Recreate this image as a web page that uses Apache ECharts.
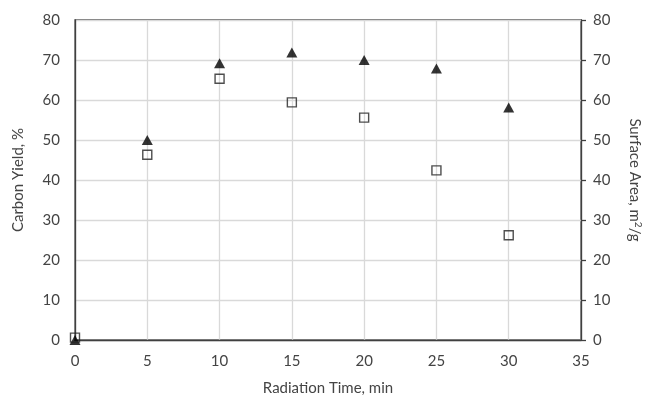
<!DOCTYPE html>
<html><head><meta charset="utf-8">
<script src="https://cdn.jsdelivr.net/npm/echarts@6/dist/echarts.min.js"></script>
<style>html,body{margin:0;padding:0;background:#fff}#c{width:648px;height:395px}</style>
</head><body><div id="c"></div>
<script>
const times = [0, 5, 10, 15, 20, 25, 30];
const carbonYield = [0, 50, 69.2, 71.9, 70, 67.9, 58.1];
const surfaceArea = [0.6, 46.3, 65.3, 59.4, 55.6, 42.4, 26.2];
const xTicks = {min: 0, max: 35, interval: 5};
const yTicks = {min: 0, max: 80, interval: 10};

const FONT = 'Lato, "Open Sans", sans-serif';
const TXT = '#444';
const FS = 15;
const chart = echarts.init(document.getElementById('c'));
chart.setOption({
  animation: false,
  grid: {left: 75, right: 67, top: 20, bottom: 55, show: true, borderColor: '#404040', borderWidth: 1.3,
         outerBoundsMode: 'none', containLabel: false},
  xAxis: {
    type: 'value', min: xTicks.min, max: xTicks.max, interval: xTicks.interval,
    name: 'Radiation Time, min', nameLocation: 'middle', nameGap: 41,
    nameTextStyle: {fontFamily: FONT, fontSize: FS, color: TXT},
    axisLine: {show: true, lineStyle: {color: '#404040', width: 1.3}},
    axisTick: {show: false},
    axisLabel: {fontFamily: FONT, fontSize: FS, color: TXT, margin: 14},
    splitLine: {show: true, lineStyle: {color: '#d9d9d9', width: 1.3}}
  },
  yAxis: [{
    type: 'value', min: yTicks.min, max: yTicks.max, interval: yTicks.interval,
    name: 'Carbon Yield, %', nameLocation: 'middle', nameGap: 49,
    nameTextStyle: {fontFamily: FONT, fontSize: FS, color: TXT},
    axisLine: {show: true, lineStyle: {color: '#404040', width: 1.3}},
    axisTick: {show: false},
    axisLabel: {fontFamily: FONT, fontSize: FS, color: TXT, margin: 15},
    splitLine: {show: true, lineStyle: {color: '#d9d9d9', width: 1.3}}
  }, {
    type: 'value', position: 'right', min: yTicks.min, max: yTicks.max, interval: yTicks.interval,
    name: 'Surface Area, m{sup|2}/g', nameLocation: 'middle', nameGap: 45, nameRotate: -90,
    nameTextStyle: {fontFamily: FONT, fontSize: FS, color: TXT,
      rich: {sup: {fontFamily: FONT, fontSize: 10, color: TXT, verticalAlign: 'top', padding: [0,0,7,0]}}},
    axisLine: {show: true, lineStyle: {color: '#404040', width: 1.3}},
    axisTick: {show: true, inside: false, length: 5, lineStyle: {color: '#404040', width: 1.3}},
    axisLabel: {fontFamily: FONT, fontSize: FS, color: TXT, margin: 12},
    splitLine: {show: false}
  }],
  series: [{
    name: 'Carbon Yield', type: 'scatter', yAxisIndex: 0,
    data: times.map((t, i) => [t, carbonYield[i]]),
    symbol: 'triangle', symbolSize: [11, 10],
    itemStyle: {color: '#000'}, z: 3
  }, {
    name: 'Surface Area', type: 'scatter', yAxisIndex: 1,
    data: times.map((t, i) => [t, surfaceArea[i]]),
    symbol: 'rect', symbolSize: 9,
    itemStyle: {color: 'rgba(255,255,255,0)', borderColor: '#222', borderWidth: 1.4}, z: 4
  }]
});
</script></body></html>
